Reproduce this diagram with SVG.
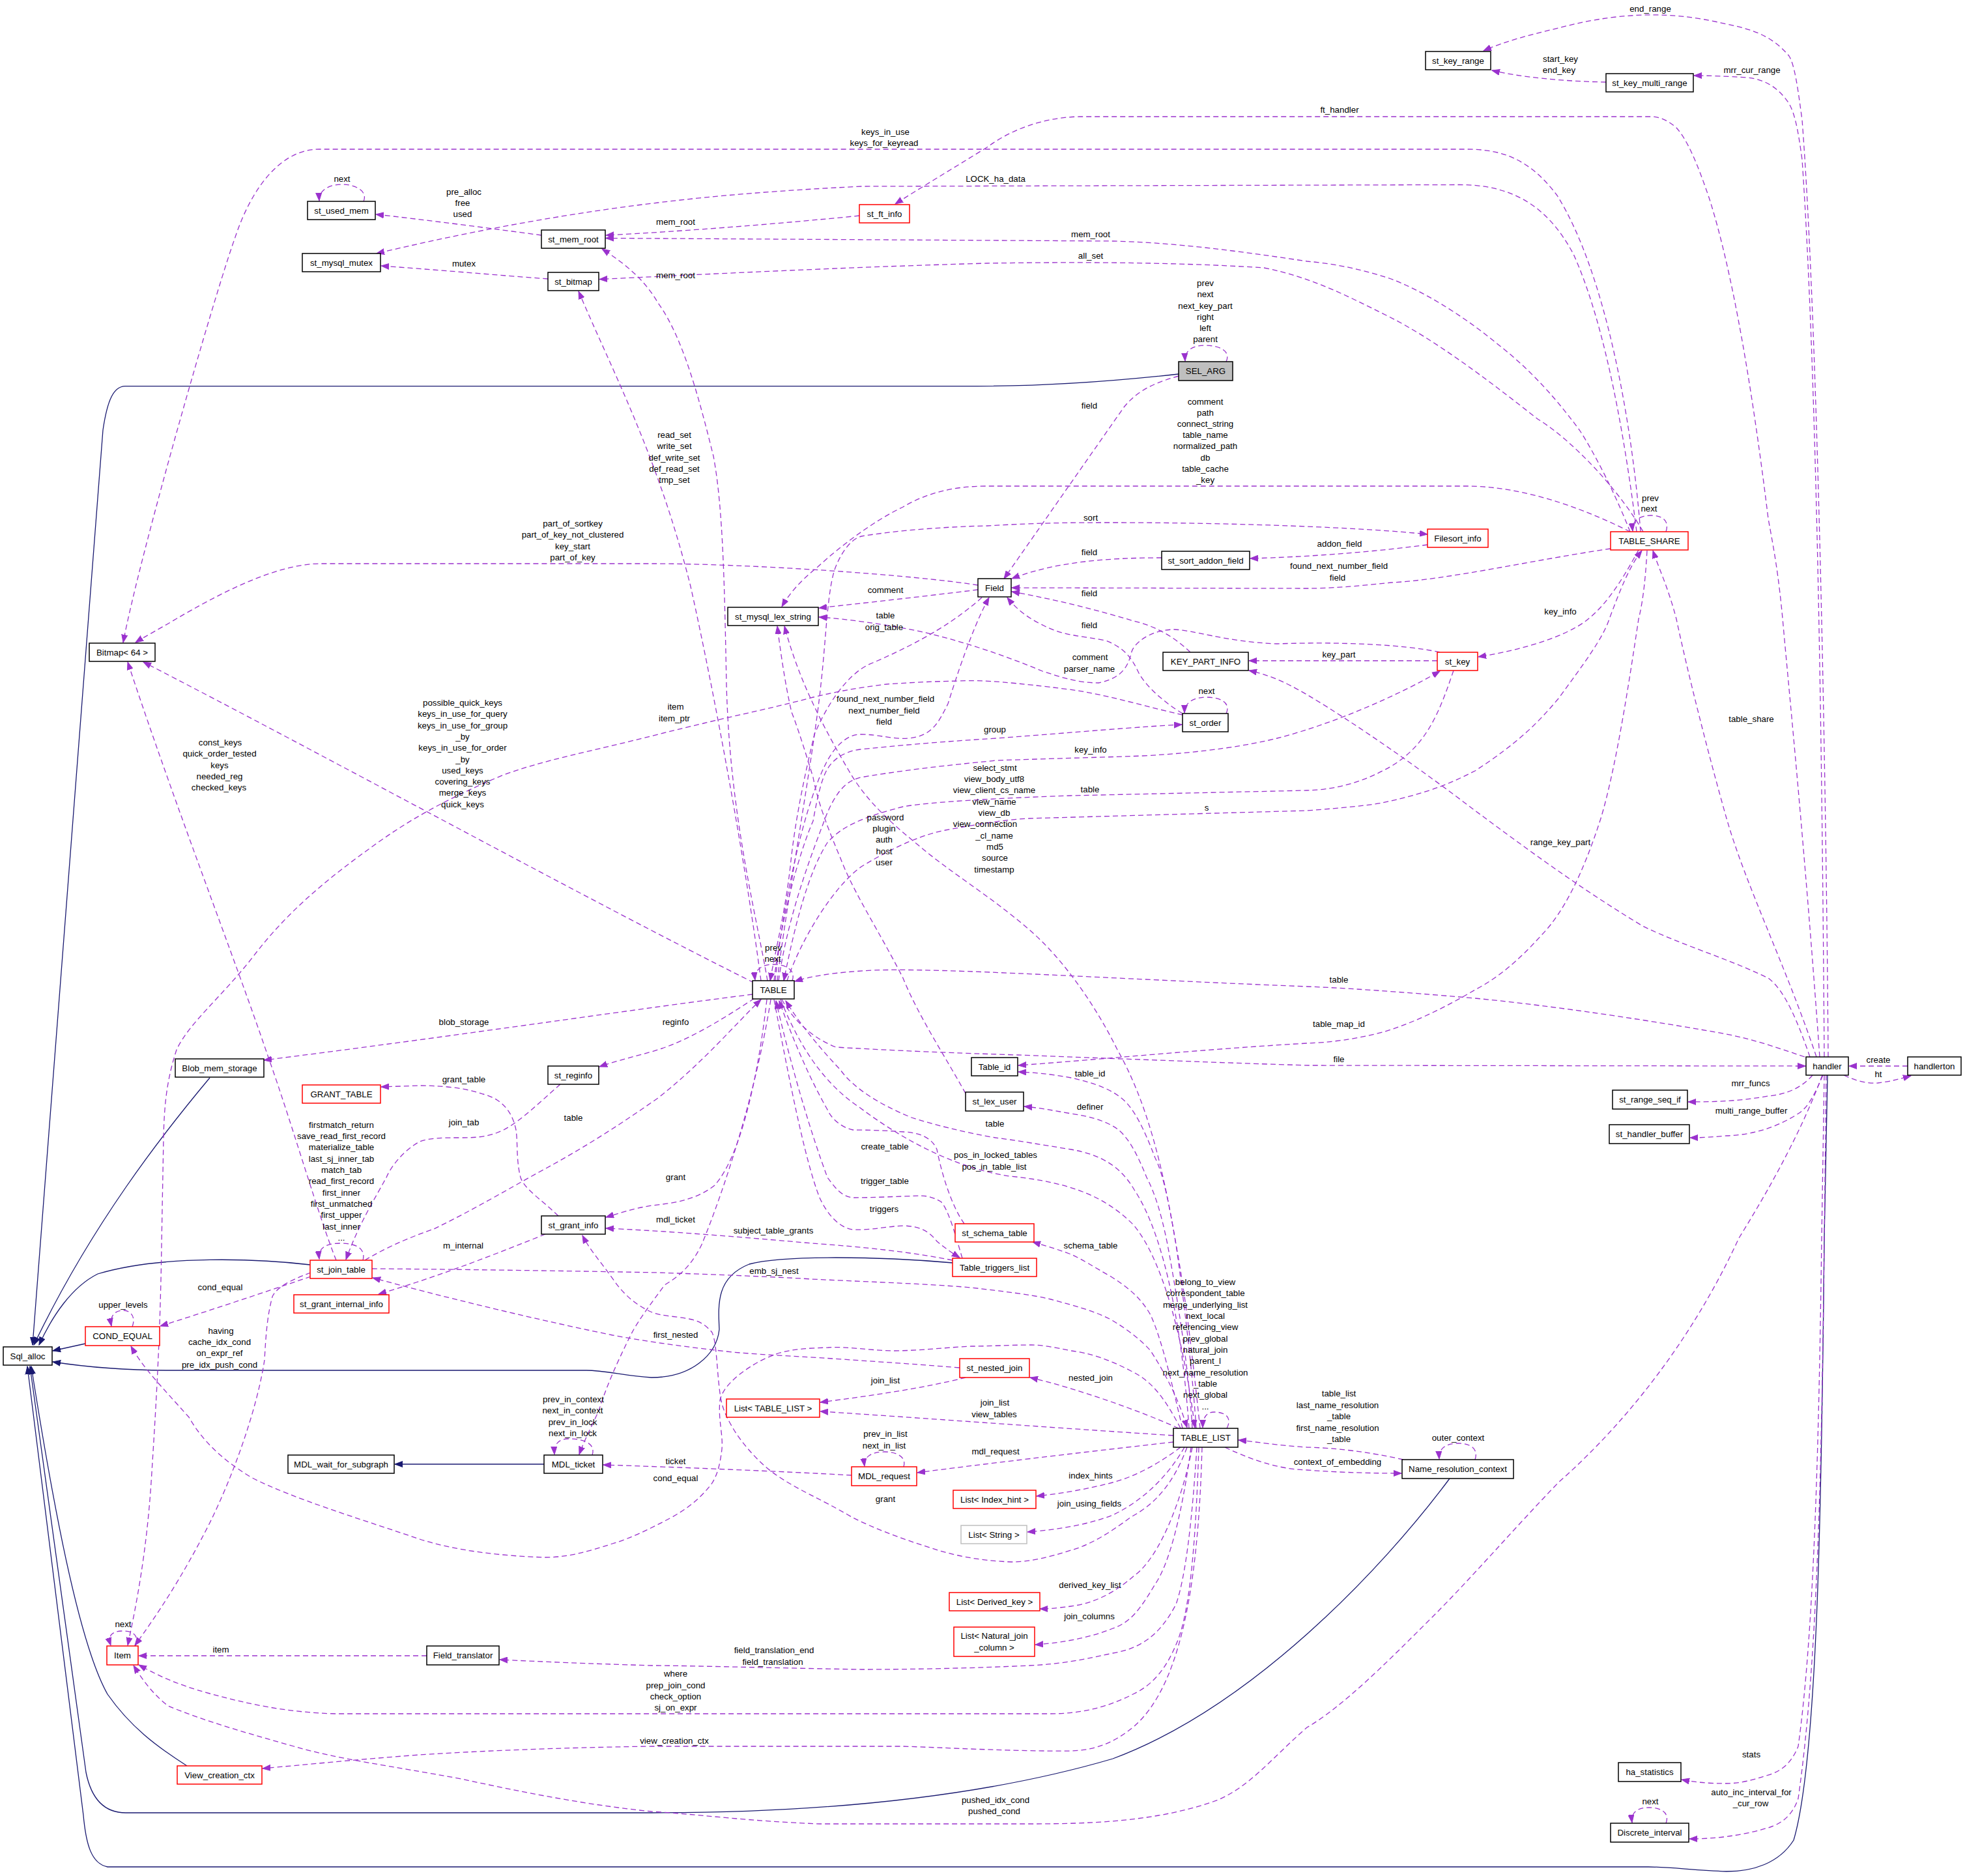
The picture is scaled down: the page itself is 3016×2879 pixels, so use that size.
<svg xmlns="http://www.w3.org/2000/svg" width="3016" height="2879" viewBox="0 0 3016 2879">
<defs>
<style>
text{font-family:"Liberation Sans",Arial,sans-serif;font-size:13.3px;fill:#000;text-anchor:middle}
.n rect{fill:#fff;stroke:#000;stroke-width:1.5}
.r rect{stroke:#ff0000}
.g rect{stroke:#bfbfbf}
.s rect{fill:#bfbfbf}
.e{fill:none;stroke:#9a32cd;stroke-width:1.3;stroke-dasharray:8 5;marker-end:url(#ap)}
.b{fill:none;stroke:#191970;stroke-width:1.3;marker-end:url(#ab)}
</style>
<marker id="ap" markerUnits="userSpaceOnUse" viewBox="0 0 13 10" markerWidth="13" markerHeight="10" refX="12" refY="5" orient="auto"><path d="M0,0.5 L12,5 L0,9.5 z" fill="#9a32cd" stroke="#9a32cd" stroke-width="1"/></marker>
<marker id="ab" markerUnits="userSpaceOnUse" viewBox="0 0 13 10" markerWidth="13" markerHeight="10" refX="12" refY="5" orient="auto"><path d="M0,0.5 L12,5 L0,9.5 z" fill="#191970" stroke="#191970" stroke-width="1"/></marker>
</defs>
<rect width="3016" height="2879" fill="#fff"/>
<g id="connectors">
<path class="b" d="M1809,574 C1700,586 1600,592.6 1500,592.6 L192,592.6 C175,593 165,612 158,660 L50,2064"/>
<path class="b" d="M322,1654 C250,1740 140,1880 52,2064"/>
<path class="b" d="M476,1941 C400,1932 250,1925 150,1955 C110,1975 80,2020 60,2064"/>
<path class="b" d="M131,2062 L81,2073"/>
<path class="b" d="M1462,1938 C1350,1928 1200,1926 1150,1940 C1100,1960 1102,2000 1104,2040 C1100,2080 1060,2114 1000,2114 C960,2112 930,2103 900,2103 L260,2103 C180,2103 120,2096 81,2090"/>
<path class="b" d="M2225,2269 C2120,2410 1920,2620 1708,2699 C1500,2760 1250,2782 1000,2782 L193,2782 C160,2782 140,2760 132,2720 L46,2097"/>
<path class="b" d="M287,2710 C240,2680 200,2650 165,2600 C120,2520 80,2300 48,2097"/>
<path class="b" d="M2805,1650 L2800,1900 C2796,2300 2790,2700 2753,2824 C2730,2860 2690,2872 2650,2872 C2600,2870 2560,2865 2530,2865 L165,2865 C140,2860 132,2830 128,2786 L42,2097"/>
<path class="b" d="M835,2247 L606,2247"/>
<path class="e" d="M1882,555 C1890,538 1870,530 1850,530 C1830,530 1818,538 1819,554"/>
<path class="e" d="M1809,577 C1770,588 1745,600 1725,625 L1541,888"/>
<path class="e" d="M558,309 C565,293 545,283 525,283 C505,283 489,292 490,308"/>
<path class="e" d="M831,361 C750,350 650,337 577,329"/>
<path class="e" d="M841,428 C760,422 670,414 585,408"/>
<path class="e" d="M2512,816 C2495,680 2465,500 2415,390 C2375,315 2320,283.5 2240,283.5 L1322,286 C1200,292 1100,300 1010,311 C850,330 700,360 578,389"/>
<path class="e" d="M1319,331 C1200,343 1050,355 930,361"/>
<path class="e" d="M2502,816 C2480,760 2450,700 2425,661 C2380,600 2340,560 2296,526 C2240,480 2180,445 2135,428 C2080,410 2040,404 2006,401 C1900,385 1800,372 1708,370 L930,365.5"/>
<path class="e" d="M1178,1505 C1160,1400 1120,1250 1115,1050 C1112,900 1110,780 1095,700 C1075,620 1050,520 1010,465 C990,430 960,405 924,382"/>
<path class="e" d="M2522,816 C2490,760 2420,680 2360,643 C2280,580 2200,520 2130,485 C2060,450 2010,425 1940,411 C1800,402 1650,402 1515,404 C1300,410 1100,420 920,428.6"/>
<path class="e" d="M1168,1505 C1145,1330 1100,1080 1060,900 C1010,700 940,570 888,447"/>
<path class="e" d="M2518,816 C2505,650 2465,420 2390,300 C2345,240 2300,229 2250,229 L490,229 C430,229 385,290 360,367 C330,450 215,850 189,986"/>
<path class="e" d="M1501,898 C1400,882 1150,865 1000,865 L490,865 C420,866 330,915 270,950 C245,965 222,977 208,986"/>
<path class="e" d="M1157,1508 C900,1380 500,1160 220,1016"/>
<path class="e" d="M516,1934 C490,1870 450,1730 412,1623 C360,1470 270,1240 196,1016"/>
<path class="e" d="M557,1934 C562,1915 545,1908 523,1908 C500,1908 488,1915 490,1932"/>
<path class="e" d="M2502,816 C2450,790 2350,746 2250,746 L1515,746 C1460,746 1420,758 1386,778 C1340,800 1290,838 1255,870 C1230,890 1212,910 1200,931"/>
<path class="e" d="M2472,842 C2350,860 2220,890 2135,894 C2080,900 2040,903 2006,903 L1553,902"/>
<path class="e" d="M2191,836 C2100,848 2000,855 1919,857"/>
<path class="e" d="M1783,856 C1700,856 1620,862 1553,888"/>
<path class="e" d="M1193,1505 C1205,1400 1250,1150 1260,1050 C1268,980 1270,900 1283,869 C1295,840 1310,826 1322,823 C1400,810 1500,807 1515,807 C1600,802 1650,802 1708,802 C1900,802 2100,810 2191,820"/>
<path class="e" d="M1501,905 C1420,915 1330,925 1257,933"/>
<path class="e" d="M1507,917 C1470,950 1420,983 1333,1020 C1300,1036 1270,1080 1250,1127 C1235,1190 1220,1260 1213,1330 C1205,1400 1190,1460 1182,1505"/>
<path class="e" d="M1190,1505 C1200,1400 1230,1250 1265,1177 C1280,1145 1300,1127 1321,1127 C1350,1127 1370,1135 1394,1133 C1430,1130 1440,1110 1455,1080 C1480,1000 1500,950 1518,917"/>
<path class="e" d="M1815,1095 C1790,1080 1760,1055 1748,1033 C1738,1012 1728,995 1697,983 C1660,976 1630,975 1602,960 C1580,950 1560,935 1546,917"/>
<path class="e" d="M1827,1001 C1800,975 1770,960 1740,953 C1680,935 1620,920 1553,908"/>
<path class="e" d="M2210,1001 C2150,988 2050,985 1960,988 C1880,985 1830,966 1800,966 C1760,968 1740,990 1737,1000 C1732,1020 1725,1040 1686,1048 C1650,1048 1620,1036 1600,1030 C1540,1005 1480,985 1417,970 C1360,958 1300,950 1257,947"/>
<path class="e" d="M2206,1014 L1917,1014"/>
<path class="e" d="M2515,844 C2490,890 2460,940 2420,962 C2380,985 2320,1000 2269,1008"/>
<path class="e" d="M1195,1505 C1210,1400 1250,1300 1265,1260 C1272,1240 1280,1226 1288,1215 C1300,1200 1310,1196 1321,1193 C1400,1180 1450,1175 1529,1167 C1650,1163 1700,1162 1753,1160 C1850,1155 1920,1143 1960,1133 C2050,1110 2150,1065 2210,1030"/>
<path class="e" d="M2231,1029 C2210,1090 2190,1150 2122,1183 C2080,1205 2040,1212 2006,1213 L1644,1221 C1500,1226 1420,1232 1386,1238 C1320,1255 1290,1270 1270,1293 C1240,1340 1220,1420 1203,1505"/>
<path class="e" d="M1208,1505 C1230,1440 1280,1360 1322,1330 C1380,1295 1420,1280 1451,1274 C1500,1265 1540,1258 1580,1256 L2006,1244 C2060,1240 2100,1236 2122,1232 C2200,1215 2230,1200 2264,1183 C2330,1140 2360,1110 2392,1072 C2430,1020 2460,980 2470,950 C2485,910 2500,870 2520,845"/>
<path class="e" d="M2788,1622 C2740,1480 2680,1360 2650,1256 C2620,1150 2590,1030 2573,950 C2560,900 2545,870 2537,845"/>
<path class="e" d="M2778,1622 C2760,1570 2740,1520 2714,1501 C2650,1470 2580,1450 2521,1421 C2420,1360 2340,1300 2264,1244 C2180,1180 2080,1110 2006,1066 C1970,1045 1945,1035 1917,1029"/>
<path class="e" d="M2806,1622 C2803,1200 2790,500 2766,184 C2760,140 2755,100 2746,86 C2720,55 2690,45 2650,37 C2600,25 2560,22 2521,23 C2470,25 2430,33 2392,43 C2350,53 2310,63 2277,78"/>
<path class="e" d="M2800,1622 C2797,1200 2790,600 2766,245 C2760,200 2755,175 2746,159 C2730,135 2710,122 2682,119 C2650,117 2620,116 2600,116"/>
<path class="e" d="M2793,1622 C2770,1300 2745,1050 2737,960 C2730,880 2722,840 2714,796 C2690,600 2660,420 2624,306 C2605,250 2590,215 2573,196 C2560,185 2548,179 2534,179 L1657,179 C1600,180 1550,200 1515,226 C1460,260 1410,290 1374,313"/>
<path class="e" d="M2770,1622 C2720,1605 2690,1595 2650,1587 C2500,1560 2350,1540 2264,1532 C2150,1522 2060,1516 2006,1514 C1700,1502 1450,1485 1341,1489 C1280,1492 1245,1498 1220,1506"/>
<path class="e" d="M1200,1534 C1215,1560 1240,1590 1283,1607 C1400,1614 1500,1617 1562,1619 C1700,1624 1900,1632 2010,1635 L2771,1636"/>
<path class="e" d="M2928,1636 L2838,1636"/>
<path class="e" d="M2830,1650 C2850,1660 2870,1663 2882,1662 C2900,1660 2915,1656 2933,1651"/>
<path class="e" d="M2782,1650 C2765,1670 2740,1680 2714,1682 C2670,1690 2630,1691 2591,1691"/>
<path class="e" d="M2798,1650 C2785,1680 2775,1700 2760,1709 C2720,1735 2680,1742 2650,1743 C2630,1745 2610,1746 2594,1746"/>
<path class="e" d="M2797,1650 C2760,1750 2700,1850 2669,1900 C2600,2050 2500,2180 2392,2275 C2320,2350 2260,2420 2199,2481 C2130,2550 2060,2620 2006,2651 C1950,2700 1920,2740 1870,2762 C1780,2795 1680,2799 1580,2799 L1258,2799 C1150,2795 1080,2785 1000,2780 C900,2770 800,2750 708,2730 C600,2710 520,2700 451,2680 C380,2660 310,2640 258,2618 C235,2600 220,2580 205,2556"/>
<path class="e" d="M2800,1650 L2796,1900 C2792,2200 2785,2500 2760,2680 C2750,2705 2735,2718 2714,2724 C2690,2732 2670,2737 2650,2737 C2620,2737 2600,2735 2581,2731"/>
<path class="e" d="M2803,1650 L2800,1900 C2796,2250 2790,2550 2760,2760 C2750,2790 2730,2800 2714,2805 C2670,2818 2630,2822 2593,2822"/>
<path class="e" d="M2557,2798 C2563,2782 2550,2774 2531,2774 C2512,2774 2503,2782 2505,2797"/>
<path class="e" d="M1882,1095 C1890,1078 1872,1070 1852,1070 C1832,1070 1818,1078 1818,1094"/>
<path class="e" d="M1188,1505 C1200,1400 1230,1300 1248,1260 C1255,1220 1262,1193 1270,1180 C1280,1163 1300,1152 1321,1150 C1400,1142 1450,1138 1529,1133 C1650,1124 1750,1115 1814,1112"/>
<path class="e" d="M1815,1097 C1760,1085 1700,1066 1641,1058 C1560,1048 1510,1043 1473,1045 C1420,1046 1390,1048 1361,1050 C1320,1055 1290,1060 1248,1070 C1180,1088 1120,1100 1080,1110 C1050,1117 1030,1122 1010,1127 C900,1155 840,1165 773,1189 C700,1220 640,1250 580,1293 C500,1350 440,1400 387,1470 C340,1530 290,1570 271,1611 C255,1660 252,1700 251,1746 L248,1910 C246,2050 240,2150 232,2275 C225,2380 210,2460 196,2525"/>
<path class="e" d="M477,1953 C445,1965 425,1975 418,1990 C410,2020 408,2050 406,2087 C395,2160 360,2260 322,2337 C280,2420 240,2480 207,2525"/>
<path class="e" d="M208,2526 C214,2510 205,2503 188,2503 C172,2503 165,2510 170,2525"/>
<path class="e" d="M655,2541 L213,2541"/>
<path class="e" d="M1837,2221 C1830,2330 1820,2420 1805,2462 C1780,2510 1750,2530 1708,2537 C1650,2550 1620,2554 1580,2556 C1500,2560 1400,2562 1322,2562 C1200,2560 1050,2556 1000,2556 C900,2553 830,2550 767,2547"/>
<path class="e" d="M1840,2221 C1835,2380 1825,2480 1805,2524 C1790,2560 1770,2585 1741,2599 C1700,2620 1660,2630 1612,2630 L515,2630 C440,2628 380,2615 322,2599 C270,2585 240,2570 213,2555"/>
<path class="e" d="M1845,2221 C1840,2400 1820,2580 1741,2649 C1710,2675 1680,2686 1644,2687 C1560,2688 1450,2682 1386,2680 L1000,2680 C850,2682 720,2688 644,2693 C550,2700 470,2708 403,2714"/>
<path class="e" d="M1828,2221 C1815,2320 1795,2400 1773,2431 C1750,2470 1735,2490 1708,2499 C1670,2515 1620,2522 1589,2524"/>
<path class="e" d="M1830,2221 C1815,2300 1780,2390 1741,2418 C1710,2445 1680,2460 1644,2465 C1620,2468 1610,2469 1596,2469"/>
<path class="e" d="M1818,2221 C1790,2270 1750,2305 1708,2325 C1670,2340 1620,2348 1577,2351"/>
<path class="e" d="M1812,2221 C1780,2245 1745,2265 1708,2275 C1670,2285 1630,2292 1591,2296"/>
<path class="e" d="M1801,2213 C1650,2230 1500,2248 1408,2260"/>
<path class="e" d="M1387,2251 C1392,2235 1375,2228 1357,2228 C1338,2228 1325,2236 1327,2250"/>
<path class="e" d="M1307,2264 C1200,2258 1050,2252 926,2248"/>
<path class="e" d="M909,2233 C915,2215 895,2208 874,2208 C858,2208 850,2215 851,2232"/>
<path class="e" d="M1183,1534 C1160,1680 1110,1830 1077,1910 C1060,1945 1040,1960 1020,1972 C1000,2000 980,2025 968,2049 C945,2095 930,2130 919,2165 C905,2195 895,2215 889,2232"/>
<path class="e" d="M1177,1534 C1165,1640 1140,1770 1097,1819 C1070,1840 1040,1846 1000,1850 C970,1855 950,1862 930,1868"/>
<path class="e" d="M1462,1934 C1380,1918 1300,1912 1246,1908 C1100,1895 1000,1888 930,1885"/>
<path class="e" d="M857,1866 C830,1840 805,1825 799,1807 C792,1780 795,1755 792,1734 C785,1700 765,1685 741,1679 C710,1668 670,1666 644,1666 L585,1668"/>
<path class="e" d="M837,1894 C760,1925 670,1960 581,1986"/>
<path class="e" d="M860,1664 C830,1690 800,1720 773,1734 C750,1745 730,1746 708,1746 C680,1746 660,1746 644,1752 C620,1765 600,1790 593,1807 C575,1840 550,1880 531,1933"/>
<path class="e" d="M560,1934 C600,1910 640,1895 666,1886 C720,1860 780,1825 825,1800 C900,1760 960,1720 1010,1685 C1080,1630 1130,1570 1168,1534"/>
<path class="e" d="M1158,1532 C1100,1570 1050,1600 1000,1614 C960,1625 940,1630 920,1637"/>
<path class="e" d="M1155,1526 C1000,1545 700,1590 405,1627"/>
<path class="e" d="M477,1959 C400,1985 320,2012 246,2035"/>
<path class="e" d="M203,2036 C209,2020 200,2011 189,2011 C176,2011 168,2020 171,2035"/>
<path class="e" d="M571,1947 C700,1948 850,1950 1010,1953 C1100,1956 1200,1960 1246,1963 C1350,1968 1420,1970 1491,1976 C1540,1982 1580,1986 1613,1994 C1650,2004 1680,2012 1705,2025 C1730,2040 1750,2055 1766,2073 C1790,2110 1810,2150 1822,2191"/>
<path class="e" d="M1473,2099 C1400,2093 1350,2090 1307,2087 C1240,2082 1180,2080 1124,2075 C1060,2068 1000,2060 940,2049 C800,2020 680,1990 572,1961"/>
<path class="e" d="M1482,2114 C1420,2130 1330,2143 1259,2152"/>
<path class="e" d="M1809,2192 C1750,2165 1650,2130 1581,2114"/>
<path class="e" d="M1801,2203 C1600,2190 1400,2175 1259,2166"/>
<path class="e" d="M1815,2192 C1800,2130 1785,2060 1766,2018 C1750,1990 1730,1975 1705,1959 C1680,1945 1660,1932 1644,1925 C1620,1916 1605,1912 1585,1906"/>
<path class="e" d="M1812,2192 C1790,2150 1770,2120 1736,2104 C1700,2085 1670,2076 1644,2073 C1620,2068 1600,2064 1583,2064 C1550,2064 1520,2066 1491,2066 C1450,2068 1410,2073 1369,2073 C1330,2072 1300,2066 1271,2068 C1240,2069 1220,2070 1197,2076 C1170,2085 1155,2095 1142,2104 C1120,2120 1108,2135 1105,2149 C1102,2180 1110,2200 1108,2224 C1105,2250 1100,2265 1093,2276 C1075,2300 1055,2315 1032,2328 C1000,2345 970,2360 940,2369 C900,2382 870,2390 837,2390 C770,2388 700,2380 644,2362 C550,2330 450,2300 387,2268 C340,2240 310,2210 290,2175 C250,2130 220,2100 201,2066"/>
<path class="e" d="M1822,2221 C1800,2280 1770,2310 1736,2328 C1700,2355 1670,2372 1644,2379 C1610,2390 1580,2397 1552,2397 C1500,2395 1460,2386 1430,2376 C1380,2360 1340,2345 1307,2328 C1260,2300 1220,2285 1185,2259 C1160,2240 1135,2210 1124,2190 C1112,2170 1107,2155 1105,2138 C1100,2100 1100,2060 1093,2045 C1085,2035 1075,2028 1062,2025 C1040,2020 1015,2020 1001,2014 C980,2005 960,1990 943,1966 C925,1940 905,1918 894,1896"/>
<path class="e" d="M1880,2221 C1930,2245 1970,2255 2006,2256 C2060,2260 2110,2261 2151,2261"/>
<path class="e" d="M2154,2240 C2100,2228 2050,2222 2006,2221 C1960,2218 1930,2213 1901,2210"/>
<path class="e" d="M2264,2240 C2270,2222 2255,2215 2238,2215 C2220,2215 2208,2222 2209,2239"/>
<path class="e" d="M1883,2192 C1892,2175 1880,2167 1864,2167 C1852,2167 1846,2175 1846,2191"/>
<path class="e" d="M1836,2192 C1830,2100 1815,1980 1805,1910 C1795,1850 1785,1800 1773,1777 C1755,1730 1740,1700 1721,1685 C1700,1668 1670,1660 1644,1654 C1610,1648 1590,1646 1563,1645"/>
<path class="e" d="M1830,2192 C1825,2100 1805,1980 1792,1910 C1782,1860 1772,1830 1760,1807 C1745,1770 1730,1740 1708,1728 C1690,1718 1670,1713 1644,1709 C1615,1704 1595,1700 1572,1698"/>
<path class="e" d="M2528,845 C2525,900 2520,930 2515,950 C2500,1050 2480,1180 2457,1256 C2430,1340 2400,1400 2367,1434 C2330,1475 2300,1500 2264,1519 C2220,1545 2170,1570 2122,1584 C2080,1595 2040,1600 2006,1601 C1850,1610 1700,1625 1563,1635"/>
<path class="e" d="M1198,1534 C1225,1600 1260,1660 1320,1700 C1400,1760 1480,1795 1550,1805 C1650,1815 1700,1840 1740,1880 C1790,1940 1820,2080 1834,2191"/>
<path class="e" d="M1825,2192 C1815,2050 1790,1900 1741,1826 C1720,1790 1690,1772 1644,1764 C1600,1757 1560,1750 1528,1746 C1480,1738 1430,1725 1399,1715 C1350,1695 1310,1670 1290,1642 C1260,1610 1230,1575 1206,1536"/>
<path class="e" d="M1480,1878 C1460,1850 1445,1800 1438,1764 C1430,1745 1410,1738 1387,1737 C1360,1735 1330,1734 1309,1734 C1290,1730 1275,1715 1270,1703 C1240,1650 1215,1590 1196,1536"/>
<path class="e" d="M1477,1931 C1465,1890 1455,1855 1444,1844 C1430,1836 1420,1835 1412,1835 C1380,1836 1340,1838 1309,1838 C1290,1836 1280,1820 1270,1807 C1245,1740 1215,1640 1191,1536"/>
<path class="e" d="M1188,1534 C1210,1650 1235,1780 1258,1838 C1270,1865 1290,1885 1309,1887 C1340,1888 1360,1882 1387,1881 C1410,1882 1425,1888 1438,1905 C1450,1915 1460,1922 1473,1930"/>
<path class="e" d="M1842,2192 C1830,2080 1820,1990 1805,1910 C1785,1790 1760,1690 1715,1611 C1680,1540 1630,1470 1580,1427 C1520,1375 1460,1340 1412,1299 C1370,1265 1330,1230 1303,1183 C1260,1110 1225,1040 1204,961"/>
<path class="e" d="M1482,1678 C1450,1620 1410,1560 1386,1501 C1350,1430 1310,1370 1290,1317 C1270,1270 1255,1230 1248,1193 C1235,1150 1222,1110 1215,1093 C1205,1050 1198,1000 1193,961"/>
<path class="e" d="M1216,1505 C1222,1488 1205,1480 1187,1480 C1170,1480 1157,1488 1159,1504"/>
<path class="e" d="M2557,816 C2563,798 2550,791 2534,791 C2518,791 2504,798 2506,815"/>
<path class="e" d="M2465,126 C2400,125 2330,118 2290,108"/>
</g>
<g id="edge-labels">
<text x="2533" y="18">end_range</text>
<text x="2395" y="95">start_key</text><text x="2393" y="112">end_key</text>
<text x="2689" y="112">mrr_cur_range</text>
<text x="2056" y="173">ft_handler</text>
<text x="1359" y="207">keys_in_use</text><text x="1357" y="224">keys_for_keyread</text>
<text x="525" y="279">next</text>
<text x="712" y="299">pre_alloc</text><text x="710" y="316">free</text><text x="710" y="333">used</text>
<text x="1528" y="279">LOCK_ha_data</text>
<text x="1037" y="345">mem_root</text>
<text x="1674" y="364">mem_root</text>
<text x="1674" y="397">all_set</text>
<text x="712" y="409">mutex</text>
<text x="1037" y="427">mem_root</text>
<text x="1850" y="439">prev</text><text x="1850" y="456">next</text><text x="1850" y="474">next_key_part</text><text x="1850" y="491">right</text><text x="1850" y="508">left</text><text x="1850" y="525">parent</text>
<text x="1672" y="627">field</text>
<text x="1850" y="621">comment</text><text x="1850" y="638">path</text><text x="1850" y="655">connect_string</text><text x="1850" y="672">table_name</text><text x="1850" y="689">normalized_path</text><text x="1850" y="707">db</text><text x="1850" y="724">table_cache</text><text x="1850" y="741">_key</text>
<text x="1035" y="672">read_set</text><text x="1035" y="689">write_set</text><text x="1035" y="707">def_write_set</text><text x="1035" y="724">def_read_set</text><text x="1035" y="741">tmp_set</text>
<text x="2533" y="769">prev</text><text x="2531" y="785">next</text>
<text x="1674" y="799">sort</text>
<text x="879" y="808">part_of_sortkey</text><text x="879" y="825">part_of_key_not_clustered</text><text x="879" y="843">key_start</text><text x="879" y="860">part_of_key</text>
<text x="2056" y="839">addon_field</text>
<text x="1672" y="852">field</text>
<text x="2055" y="873">found_next_number_field</text><text x="2053" y="891">field</text>
<text x="1359" y="910">comment</text>
<text x="1672" y="915">field</text>
<text x="2395" y="943">key_info</text>
<text x="1359" y="949">table</text><text x="1357" y="967">orig_table</text>
<text x="1672" y="964">field</text>
<text x="2055" y="1009">key_part</text>
<text x="1673" y="1013">comment</text><text x="1672" y="1031">parser_name</text>
<text x="1852" y="1065">next</text>
<text x="710" y="1083">possible_quick_keys</text><text x="710" y="1100">keys_in_use_for_query</text><text x="710" y="1118">keys_in_use_for_group</text><text x="710" y="1135">_by</text><text x="710" y="1152">keys_in_use_for_order</text><text x="710" y="1170">_by</text><text x="710" y="1187">used_keys</text><text x="710" y="1204">covering_keys</text><text x="710" y="1221">merge_keys</text><text x="710" y="1239">quick_keys</text>
<text x="1037" y="1089">item</text><text x="1035" y="1107">item_ptr</text>
<text x="1359" y="1077">found_next_number_field</text><text x="1357" y="1095">next_number_field</text><text x="1357" y="1112">field</text>
<text x="2688" y="1108">table_share</text>
<text x="1527" y="1124">group</text>
<text x="338" y="1144">const_keys</text><text x="337" y="1161">quick_order_tested</text><text x="337" y="1179">keys</text><text x="337" y="1196">needed_reg</text><text x="336" y="1213">checked_keys</text>
<text x="1674" y="1155">key_info</text>
<text x="1527" y="1183">select_stmt</text><text x="1526" y="1200">view_body_utf8</text><text x="1526" y="1217">view_client_cs_name</text><text x="1526" y="1235">view_name</text><text x="1526" y="1252">view_db</text><text x="1512" y="1269">view_connection</text><text x="1526" y="1287">_cl_name</text><text x="1527" y="1304">md5</text><text x="1527" y="1321">source</text><text x="1526" y="1339">timestamp</text>
<text x="1673" y="1216">table</text>
<text x="1852" y="1244">s</text>
<text x="1359" y="1259">password</text><text x="1357" y="1276">plugin</text><text x="1357" y="1293">auth</text><text x="1357" y="1311">host</text><text x="1357" y="1328">user</text>
<text x="2395" y="1297">range_key_part</text>
<text x="1187" y="1459">prev</text><text x="1186" y="1476">next</text>
<text x="2055" y="1508">table</text>
<text x="712" y="1573">blob_storage</text>
<text x="1037" y="1573">reginfo</text>
<text x="2055" y="1576">table_map_id</text>
<text x="2055" y="1630">file</text>
<text x="2883" y="1631">create</text>
<text x="1673" y="1652">table_id</text>
<text x="2883" y="1653">ht</text>
<text x="712" y="1661">grant_table</text>
<text x="2687" y="1667">mrr_funcs</text>
<text x="1673" y="1703">definer</text>
<text x="2688" y="1709">multi_range_buffer</text>
<text x="880" y="1720">table</text>
<text x="712" y="1727">join_tab</text>
<text x="1527" y="1729">table</text>
<text x="524" y="1731">firstmatch_return</text><text x="524" y="1748">save_read_first_record</text><text x="524" y="1765">materialize_table</text><text x="524" y="1783">last_sj_inner_tab</text><text x="524" y="1800">match_tab</text><text x="524" y="1817">read_first_record</text><text x="524" y="1835">first_inner</text><text x="524" y="1852">first_unmatched</text><text x="524" y="1869">first_upper</text><text x="524" y="1887">last_inner</text><text x="524" y="1904">...</text>
<text x="1358" y="1764">create_table</text>
<text x="1528" y="1777">pos_in_locked_tables</text><text x="1526" y="1795">pos_in_table_list</text>
<text x="1037" y="1811">grant</text>
<text x="1358" y="1817">trigger_table</text>
<text x="1357" y="1860">triggers</text>
<text x="1037" y="1876">mdl_ticket</text>
<text x="1187" y="1893">subject_table_grants</text>
<text x="711" y="1916">m_internal</text>
<text x="1674" y="1916">schema_table</text>
<text x="1188" y="1955">emb_sj_nest</text>
<text x="1850" y="1972">belong_to_view</text><text x="1850" y="1989">correspondent_table</text><text x="1850" y="2007">merge_underlying_list</text><text x="1850" y="2024">next_local</text><text x="1850" y="2041">referencing_view</text><text x="1850" y="2059">prev_global</text><text x="1850" y="2076">natural_join</text><text x="1850" y="2093">parent_l</text><text x="1850" y="2111">next_name_resolution</text><text x="1850" y="2128">_table</text><text x="1850" y="2145">next_global</text><text x="1850" y="2163">...</text>
<text x="338" y="1980">cond_equal</text>
<text x="189" y="2007">upper_levels</text>
<text x="339" y="2047">having</text><text x="337" y="2064">cache_idx_cond</text><text x="337" y="2081">on_expr_ref</text><text x="337" y="2099">pre_idx_push_cond</text>
<text x="1037" y="2053">first_nested</text>
<text x="1674" y="2119">nested_join</text>
<text x="1359" y="2123">join_list</text>
<text x="2055" y="2143">table_list</text><text x="2053" y="2161">last_name_resolution</text><text x="2055" y="2178">_table</text><text x="2053" y="2196">first_name_resolution</text><text x="2055" y="2213">_table</text>
<text x="880" y="2152">prev_in_context</text><text x="879" y="2169">next_in_context</text><text x="879" y="2187">prev_in_lock</text><text x="879" y="2204">next_in_lock</text>
<text x="1527" y="2157">join_list</text><text x="1526" y="2175">view_tables</text>
<text x="1359" y="2205">prev_in_list</text><text x="1357" y="2223">next_in_list</text>
<text x="2238" y="2211">outer_context</text>
<text x="1528" y="2232">mdl_request</text>
<text x="1037" y="2247">ticket</text>
<text x="2053" y="2248">context_of_embedding</text>
<text x="1674" y="2269">index_hints</text>
<text x="1037" y="2273">cond_equal</text>
<text x="1359" y="2305">grant</text>
<text x="1672" y="2312">join_using_fields</text>
<text x="1673" y="2437">derived_key_list</text>
<text x="1672" y="2485">join_columns</text>
<text x="189" y="2497">next</text>
<text x="339" y="2536">item</text>
<text x="1188" y="2537">field_translation_end</text><text x="1186" y="2555">field_translation</text>
<text x="1037" y="2573">where</text><text x="1037" y="2591">prep_join_cond</text><text x="1037" y="2608">check_option</text><text x="1037" y="2625">sj_on_expr</text>
<text x="1035" y="2676">view_creation_ctx</text>
<text x="2688" y="2697">stats</text>
<text x="2688" y="2755">auto_inc_interval_for</text><text x="2687" y="2772">_cur_row</text>
<text x="1528" y="2767">pushed_idx_cond</text><text x="1526" y="2784">pushed_cond</text>
<text x="2533" y="2769">next</text>
</g>
<g id="n_st_key_range" class="n"><rect x="2188" y="79" width="100" height="28"/><text x="2238" y="97.6">st_key_range</text></g>
<g id="n_st_key_multi_range" class="n"><rect x="2465" y="113" width="134" height="28"/><text x="2532" y="131.6">st_key_multi_range</text></g>
<g id="n_st_used_mem" class="n"><rect x="472" y="309" width="104" height="28"/><text x="524" y="327.6">st_used_mem</text></g>
<g id="n_st_ft_info" class="n r"><rect x="1319" y="314" width="77" height="28"/><text x="1357.5" y="332.6">st_ft_info</text></g>
<g id="n_st_mem_root" class="n"><rect x="831" y="353" width="98" height="28"/><text x="880" y="371.6">st_mem_root</text></g>
<g id="n_st_mysql_mutex" class="n"><rect x="464" y="389" width="120" height="28"/><text x="524" y="407.6">st_mysql_mutex</text></g>
<g id="n_st_bitmap" class="n"><rect x="841" y="418" width="78" height="28"/><text x="880" y="436.6">st_bitmap</text></g>
<g id="n_SEL_ARG" class="n s"><rect x="1809" y="555" width="83" height="29"/><text x="1850.5" y="574">SEL_ARG</text></g>
<g id="n_Filesort_info" class="n r"><rect x="2191" y="812" width="93" height="28"/><text x="2237.5" y="830.6">Filesort_info</text></g>
<g id="n_TABLE_SHARE" class="n r"><rect x="2472" y="816" width="119" height="28"/><text x="2531.5" y="834.6">TABLE_SHARE</text></g>
<g id="n_st_sort_addon_field" class="n"><rect x="1783" y="846" width="135" height="28"/><text x="1850.5" y="864.6">st_sort_addon_field</text></g>
<g id="n_Field" class="n"><rect x="1501" y="888" width="51" height="28"/><text x="1526.5" y="906.6">Field</text></g>
<g id="n_st_mysql_lex_string" class="n"><rect x="1117" y="932" width="139" height="28"/><text x="1186.5" y="950.6">st_mysql_lex_string</text></g>
<g id="n_Bitmap64" class="n"><rect x="137" y="987" width="101" height="28"/><text x="187.5" y="1005.6">Bitmap&lt; 64 &gt;</text></g>
<g id="n_KEY_PART_INFO" class="n"><rect x="1785" y="1001" width="131" height="28"/><text x="1850.5" y="1019.6">KEY_PART_INFO</text></g>
<g id="n_st_key" class="n r"><rect x="2206" y="1001" width="62" height="28"/><text x="2237" y="1019.6">st_key</text></g>
<g id="n_st_order" class="n"><rect x="1815" y="1095" width="70" height="28"/><text x="1850" y="1113.6">st_order</text></g>
<g id="n_TABLE" class="n"><rect x="1155" y="1505" width="64" height="28"/><text x="1187" y="1523.6">TABLE</text></g>
<g id="n_Table_id" class="n"><rect x="1491" y="1623" width="71" height="28"/><text x="1526.5" y="1641.6">Table_id</text></g>
<g id="n_handler" class="n"><rect x="2772" y="1622" width="65" height="28"/><text x="2804.5" y="1640.6">handler</text></g>
<g id="n_handlerton" class="n"><rect x="2928" y="1622" width="82" height="28"/><text x="2969" y="1640.6">handlerton</text></g>
<g id="n_Blob_mem_storage" class="n"><rect x="269" y="1625" width="136" height="28"/><text x="337" y="1643.6">Blob_mem_storage</text></g>
<g id="n_st_reginfo" class="n"><rect x="841" y="1636" width="78" height="28"/><text x="880" y="1654.6">st_reginfo</text></g>
<g id="n_GRANT_TABLE" class="n r"><rect x="464" y="1665" width="120" height="28"/><text x="524" y="1683.6">GRANT_TABLE</text></g>
<g id="n_st_lex_user" class="n"><rect x="1482" y="1676" width="89" height="29"/><text x="1526.5" y="1695">st_lex_user</text></g>
<g id="n_st_range_seq_if" class="n"><rect x="2475" y="1673" width="115" height="29"/><text x="2532.5" y="1692">st_range_seq_if</text></g>
<g id="n_st_handler_buffer" class="n"><rect x="2470" y="1726" width="123" height="29"/><text x="2531.5" y="1745">st_handler_buffer</text></g>
<g id="n_st_grant_info" class="n"><rect x="831" y="1866" width="98" height="28"/><text x="880" y="1884.6">st_grant_info</text></g>
<g id="n_st_schema_table" class="n r"><rect x="1466" y="1878" width="121" height="28"/><text x="1526.5" y="1896.6">st_schema_table</text></g>
<g id="n_Table_triggers_list" class="n r"><rect x="1462" y="1931" width="129" height="28"/><text x="1526.5" y="1949.6">Table_triggers_list</text></g>
<g id="n_st_join_table" class="n r"><rect x="476" y="1934" width="95" height="28"/><text x="523.5" y="1952.6">st_join_table</text></g>
<g id="n_st_grant_internal_info" class="n r"><rect x="451" y="1987" width="146" height="28"/><text x="524" y="2005.6">st_grant_internal_info</text></g>
<g id="n_COND_EQUAL" class="n r"><rect x="131" y="2036" width="114" height="29"/><text x="188" y="2055">COND_EQUAL</text></g>
<g id="n_Sql_alloc" class="n"><rect x="5" y="2067" width="75" height="28"/><text x="42.5" y="2085.6">Sql_alloc</text></g>
<g id="n_st_nested_join" class="n r"><rect x="1473" y="2085" width="107" height="29"/><text x="1526.5" y="2104">st_nested_join</text></g>
<g id="n_List_TABLE_LIST" class="n r"><rect x="1115" y="2147" width="143" height="28"/><text x="1186.5" y="2165.6">List&lt; TABLE_LIST &gt;</text></g>
<g id="n_TABLE_LIST" class="n"><rect x="1801" y="2192" width="99" height="29"/><text x="1850.5" y="2211">TABLE_LIST</text></g>
<g id="n_MDL_wait_for_subgraph" class="n"><rect x="442" y="2233" width="163" height="28"/><text x="523.5" y="2251.6">MDL_wait_for_subgraph</text></g>
<g id="n_MDL_ticket" class="n"><rect x="835" y="2233" width="90" height="28"/><text x="880" y="2251.6">MDL_ticket</text></g>
<g id="n_Name_resolution_context" class="n"><rect x="2152" y="2240" width="171" height="29"/><text x="2237.5" y="2259">Name_resolution_context</text></g>
<g id="n_MDL_request" class="n r"><rect x="1307" y="2251" width="100" height="29"/><text x="1357" y="2270">MDL_request</text></g>
<g id="n_List_Index_hint" class="n r"><rect x="1463" y="2287" width="127" height="28"/><text x="1526.5" y="2305.6">List&lt; Index_hint &gt;</text></g>
<g id="n_List_String" class="n g"><rect x="1475" y="2341" width="101" height="28"/><text x="1525.5" y="2359.6">List&lt; String &gt;</text></g>
<g id="n_List_Derived_key" class="n r"><rect x="1457" y="2444" width="139" height="28"/><text x="1526.5" y="2462.6">List&lt; Derived_key &gt;</text></g>
<g id="n_List_Natural_join_column" class="n r"><rect x="1464" y="2497" width="124" height="45"/><text x="1526" y="2515">List&lt; Natural_join</text><text x="1526" y="2533">_column &gt;</text></g>
<g id="n_Item" class="n r"><rect x="164" y="2526" width="48" height="29"/><text x="188" y="2545">Item</text></g>
<g id="n_Field_translator" class="n"><rect x="655" y="2526" width="111" height="29"/><text x="710.5" y="2545">Field_translator</text></g>
<g id="n_ha_statistics" class="n"><rect x="2484" y="2705" width="96" height="29"/><text x="2532" y="2724">ha_statistics</text></g>
<g id="n_View_creation_ctx" class="n r"><rect x="272" y="2710" width="130" height="28"/><text x="337" y="2728.6">View_creation_ctx</text></g>
<g id="n_Discrete_interval" class="n"><rect x="2472" y="2798" width="120" height="29"/><text x="2532" y="2817">Discrete_interval</text></g>
</svg>
